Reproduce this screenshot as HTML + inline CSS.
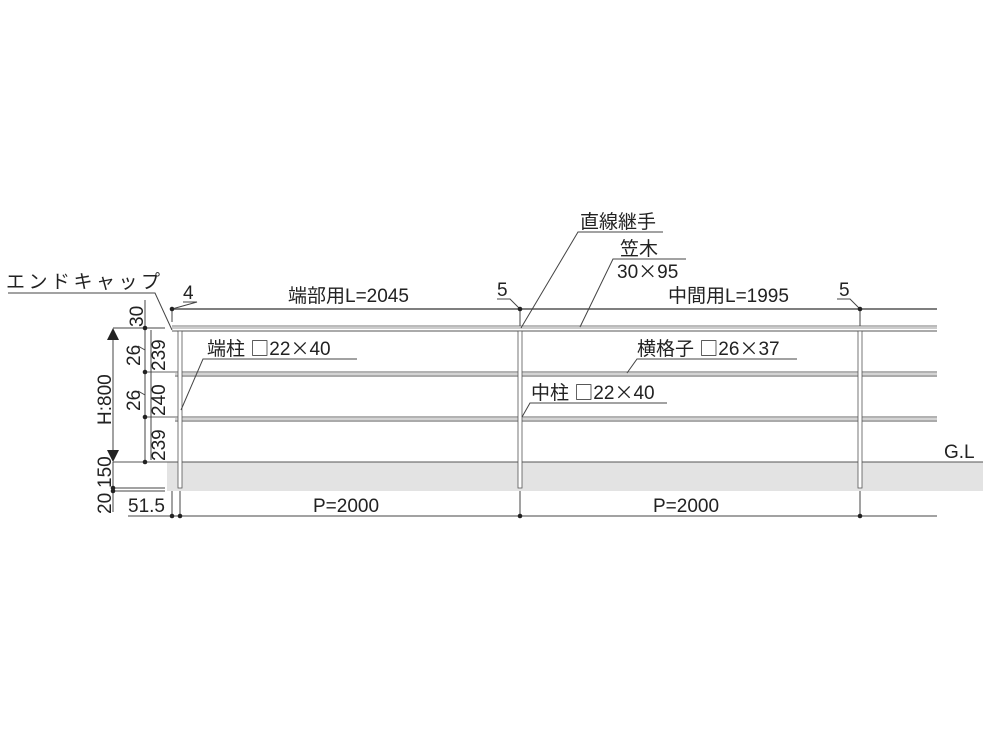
<!DOCTYPE html>
<html><head><meta charset="utf-8"><style>
html,body{margin:0;padding:0;background:#fff;}
svg{display:block;}
text{font-family:"Liberation Sans","Noto Sans CJK JP",sans-serif;fill:#222;}
.j{font-family:"Noto Sans CJK JP",sans-serif;}
</style></head><body>
<svg width="1000" height="750" viewBox="0 0 1000 750" xmlns="http://www.w3.org/2000/svg">
<g stroke="#444" fill="none" stroke-width="1">
<rect x="167" y="462" width="816" height="29" fill="#e3e3e3" stroke="none"/>
<line x1="113" y1="462" x2="983" y2="462" stroke="#555"/>
<line x1="172" y1="309" x2="937" y2="309" stroke-width="1.6" stroke="#555"/>
<line x1="172" y1="326" x2="937" y2="326" stroke="#777"/>
<line x1="172" y1="328" x2="937" y2="328" stroke="#999"/>
<line x1="172" y1="331" x2="937" y2="331" stroke="#555"/>
<line x1="145" y1="372" x2="937" y2="372" stroke="#666"/>
<line x1="175" y1="374" x2="937" y2="374" stroke="#aaa"/>
<line x1="175" y1="376" x2="937" y2="376" stroke="#555"/>
<line x1="145" y1="417" x2="937" y2="417" stroke="#666"/>
<line x1="175" y1="419" x2="937" y2="419" stroke="#aaa"/>
<line x1="175" y1="421" x2="937" y2="421" stroke="#555"/>
<rect x="178" y="331" width="4" height="157" fill="#fff" stroke="#555" stroke-width="0.8"/>
<rect x="518" y="331" width="4" height="157" fill="#fff" stroke="#555" stroke-width="0.8"/>
<rect x="858" y="331" width="4" height="157" fill="#fff" stroke="#555" stroke-width="0.8"/>
<line x1="520" y1="309" x2="520" y2="326"/>
<line x1="860" y1="309" x2="860" y2="326"/>
<line x1="172" y1="309" x2="172" y2="322"/>
<line x1="128" y1="516" x2="937" y2="516"/>
<line x1="172" y1="491" x2="172" y2="516"/>
<line x1="180" y1="491" x2="180" y2="516"/>
<line x1="520" y1="491" x2="520" y2="516"/>
<line x1="860" y1="491" x2="860" y2="516"/>
<line x1="145" y1="328" x2="165" y2="328"/>
<line x1="145" y1="328" x2="145" y2="462"/>
<line x1="151" y1="330" x2="151" y2="460"/>
<line x1="113" y1="328" x2="145" y2="328"/>
<line x1="113" y1="335" x2="113" y2="455"/>
<line x1="113" y1="462" x2="113" y2="512"/>
<line x1="113" y1="488" x2="165" y2="488"/>
<line x1="113" y1="491" x2="165" y2="491"/>
<line x1="145" y1="300" x2="145" y2="328"/>
<polyline points="8,293 155,293 172,330"/>
<polyline points="183,302 197,302 172,309"/>
<polyline points="497,299 510,299 520,309"/>
<polyline points="837,299 850,299 860,309"/>
<polyline points="663,232 578,232 521,328"/>
<polyline points="686,259 613,259 580,327"/>
<polyline points="181,410 203,359 357,359"/>
<polyline points="627,373 637,359 797,359"/>
<polyline points="522,417 530,403 667,403"/>
<polyline points="138,346 145,350"/>
<polyline points="138,391 145,395"/>
</g>
<polygon points="107,340 119,340 113,328" fill="#222"/>
<polygon points="107,450 119,450 113,462" fill="#222"/>
<g fill="#222">
<circle cx="172" cy="309" r="2.3"/><circle cx="520" cy="309" r="2.3"/><circle cx="860" cy="309" r="2.3"/>
<circle cx="145" cy="328" r="2.3"/><circle cx="145" cy="372" r="2.3"/><circle cx="145" cy="417" r="2.3"/><circle cx="145" cy="462" r="2.3"/>
<circle cx="113" cy="488" r="2.3"/><circle cx="113" cy="491" r="2.3"/>
<circle cx="172" cy="516" r="2.3"/><circle cx="180" cy="516" r="2.3"/><circle cx="520" cy="516" r="2.3"/><circle cx="860" cy="516" r="2.3"/>
</g>
<g font-size="19">
<text x="6" y="288" font-size="19" letter-spacing="3.5">エンドキャップ</text>
<text x="183" y="299">4</text>
<text x="497" y="296">5</text>
<text x="839" y="296">5</text>
<text x="288" y="302">端部用L=2045</text>
<text x="668" y="302">中間用L=1995</text>
<text x="580" y="228">直線継手</text>
<text x="620" y="255">笠木</text>
<text x="617" y="278">30<tspan class="j">×</tspan>95</text>
<text x="207" y="355">端柱 <tspan class="j">□</tspan>22<tspan class="j">×</tspan>40</text>
<text x="637" y="355">横格子 <tspan class="j">□</tspan>26<tspan class="j">×</tspan>37</text>
<text x="531" y="399">中柱 <tspan class="j">□</tspan>22<tspan class="j">×</tspan>40</text>
<text x="944" y="458">G.L</text>
<text x="313" y="512">P=2000</text>
<text x="653" y="512">P=2000</text>
<text x="128" y="512">51.5</text>
</g>
<g font-size="19">
<text transform="translate(143,327) rotate(-90)">30</text>
<text transform="translate(165,371) rotate(-90)">239</text>
<text transform="translate(165,416) rotate(-90)">240</text>
<text transform="translate(165,461) rotate(-90)">239</text>
<text transform="translate(140,366) rotate(-90)">26</text>
<text transform="translate(140,411) rotate(-90)">26</text>
<text transform="translate(111,425) rotate(-90)">H:800</text>
<text transform="translate(111,488) rotate(-90)">150</text>
<text transform="translate(111,514) rotate(-90)">20</text>
</g>
</svg>
</body></html>
